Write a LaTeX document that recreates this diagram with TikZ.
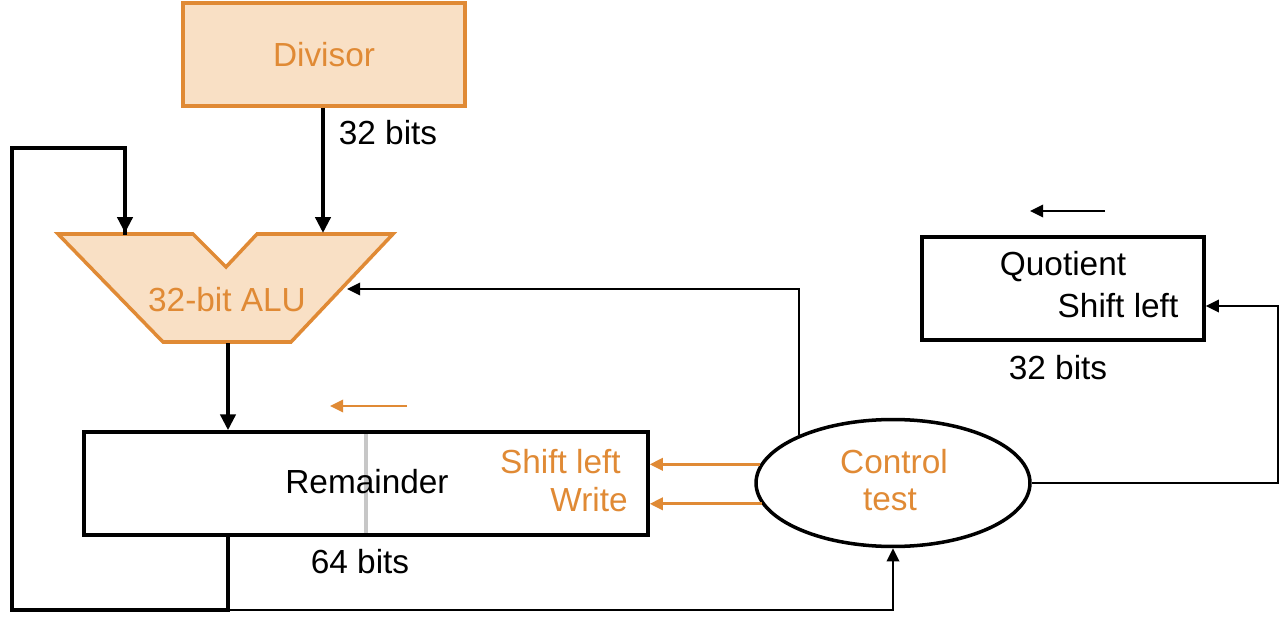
\documentclass[tikz,border=0pt]{standalone}
\usepackage{fontspec}
\setmainfont{Liberation Sans}
\usetikzlibrary{arrows.meta,shapes.geometric}
\definecolor{org}{HTML}{E08A35}
\definecolor{peach}{HTML}{F9E0C5}
\begin{document}
\begin{tikzpicture}[x=0.02cm,y=-0.02cm,
  lbl/.style={font=\fontsize{19}{22}\selectfont, inner sep=0pt},
  olbl/.style={lbl, text=org},
  bus/.style={line width=2.5pt, -{Triangle[length=9pt,width=8.5pt]}},
  busplain/.style={line width=2.5pt},
  wire/.style={line width=1.6pt, -{Triangle[length=7.5pt,width=7pt]}},
  owire/.style={wire, draw=org},
  box/.style={draw, line width=2pt, minimum width=5.64cm, minimum height=2.06cm, inner sep=0pt}]
\useasboundingbox (0,0) rectangle (1284,618);
% Divisor
\node[box, draw=org, fill=peach, text=org, font=\fontsize{19}{22}\selectfont] (div) at (324,54.5) {Divisor};
% ALU
\draw[fill=peach, draw=org, line width=2pt, line join=miter]
  (58,234) -- (193,234) -- (226,267) -- (257,234) -- (393,234) -- (291,342) -- (163,342) -- cycle;
\node[olbl] (alulbl) at (227,300) {32-bit ALU};
\coordinate (aluA) at (125,233);
\coordinate (aluB) at (323,233);
\coordinate (aluR) at (347,289);
\coordinate (aluO) at (228,343);
% Remainder
\node[box, minimum width=11.28cm] (rem) at (366,483.5) {};
\draw[black!22, line width=2.2pt] ([yshift=-1.5pt]rem.north) -- ([yshift=1.5pt]rem.south);
\node[box, minimum width=11.28cm, fill=none] at (366,483.5) {};
\node[lbl] (remlbl) at (367,482) {Remainder};
\node[olbl, anchor=east] (remshift) at (621,462) {Shift left};
\node[olbl, anchor=east] (remwrite) at (628,500) {Write};
\node[lbl] (rembits) at (360,562) {64 bits};
% Quotient
\node[box] (quo) at (1063,288.5) {};
\node[lbl] (quolbl) at (1063,267) {Quotient};
\node[lbl] (quoshift) at (1118,306) {Shift left};
\node[lbl] (quobits) at (1058,368) {32 bits};
% Control
\node[draw, ellipse, line width=2pt, minimum width=5.48cm, minimum height=2.54cm, inner sep=0pt] (ctl) at (893,483) {};
\node[olbl] (ctl1) at (894,462) {Control};
\node[olbl] (ctl2) at (890,500) {test};
% shift direction arrows
\coordinate (rs1) at (407,406); \coordinate (rs2) at (330,406);
\draw[owire] (rs1) -- (rs2);
\coordinate (qs1) at (1105,211); \coordinate (qs2) at (1030,211);
\draw[wire] (qs1) -- (qs2);
% Divisor to ALU
\node[lbl] (divbits) at (388,133) {32 bits};
\draw[bus] (div.south -| aluB) -- (aluB);
% ALU to Remainder
\draw[bus] (aluO) -- (aluO |- rem.north);
% Remainder feedback to ALU
\coordinate (fb1) at (228,610);
\coordinate (fb2) at (12,610);
\coordinate (fb3) at (12,148);
\draw[busplain, line join=miter] (rem.south -| aluO) -- (fb1) -- (fb2) -- (fb3) -| ([yshift=-1pt]aluA);
\draw[bus] (125,147) -- (aluA);
% Remainder to Control
\draw[wire] (fb1) -| (ctl.south);
% Control to ALU
\draw[wire] (ctl.153) |- (aluR);
% Control to Remainder (orange)
\coordinate (c1) at (ctl.172);
\coordinate (c2) at (ctl.189);
\draw[owire] (c1) -- (c1 -| rem.east);
\draw[owire] (c2) -- (c2 -| rem.east);
% Control to Quotient
\coordinate (qr) at (1278,306);
\coordinate (qe) at (quo.east |- qr);
\draw[wire] (ctl.east) -| (qr) -- (qe);
\end{tikzpicture}
\end{document}
